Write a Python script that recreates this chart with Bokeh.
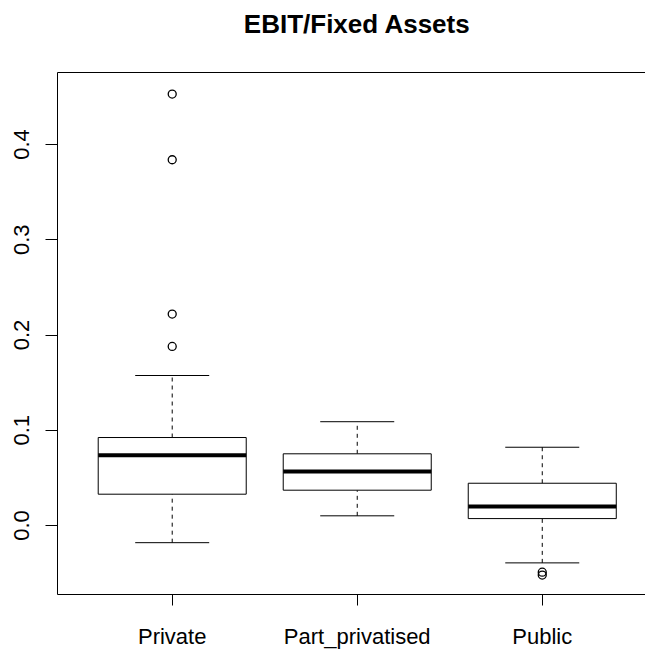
from bokeh.plotting import figure
from bokeh.models import Range1d, FixedTicker, LinearAxis, PrintfTickFormatter, Label
from bokeh.embed import file_html
from bokeh.resources import INLINE

# Summary statistics for each ownership group
categories = ["Private", "Part_privatised", "Public"]
positions = [1, 2, 3]
lower_whisker = [-0.018, 0.0102, -0.0392]
q1 = [0.0329, 0.0371, 0.0073]
median = [0.0738, 0.0567, 0.0199]
q3 = [0.0924, 0.0753, 0.0444]
upper_whisker = [0.1575, 0.109, 0.0822]

# Points beyond the whiskers
outlier_x = [1, 1, 1, 1, 3, 3]
outlier_y = [0.453, 0.384, 0.222, 0.188, -0.049, -0.052]

y_ticks = [0.0, 0.1, 0.2, 0.3, 0.4]

FONT = "Liberation Sans"
BOX_HALF = 0.4
CAP_HALF = 0.2

p = figure(width=645, height=653,
           x_range=Range1d(0.38, 3.558), y_range=Range1d(-0.0724, 0.4756),
           output_backend="svg", toolbar_location=None,
           x_axis_location=None, y_axis_location=None,
           min_border_left=57, min_border_right=0,
           min_border_top=72, min_border_bottom=59)
p.outline_line_color = None
p.grid.visible = False
p.background_fill_color = "white"
p.border_fill_color = "white"
p.title.text = ""

# Axes: left and bottom carry ticks, the top one just closes the box
yaxis = LinearAxis(ticker=FixedTicker(ticks=y_ticks),
                   formatter=PrintfTickFormatter(format="%.1f"))
yaxis.major_label_orientation = "vertical"
yaxis.major_tick_out = 12
yaxis.major_tick_in = 0
yaxis.minor_tick_line_color = None
yaxis.major_label_standoff = 16
yaxis.major_label_text_font = FONT
yaxis.major_label_text_font_size = "22px"
yaxis.major_label_text_color = "black"
yaxis.axis_line_color = "black"
yaxis.major_tick_line_color = "black"
p.add_layout(yaxis, "left")

xaxis = LinearAxis(ticker=FixedTicker(ticks=positions),
                   major_label_overrides={pos: name for pos, name in zip(positions, categories)})
xaxis.major_tick_out = 11
xaxis.major_tick_in = 0
xaxis.minor_tick_line_color = None
xaxis.major_label_standoff = 18
xaxis.major_label_text_font = FONT
xaxis.major_label_text_font_size = "22px"
xaxis.major_label_text_color = "black"
xaxis.axis_line_color = "black"
xaxis.major_tick_line_color = "black"
p.add_layout(xaxis, "below")

top_axis = LinearAxis(ticker=FixedTicker(ticks=[]))
top_axis.major_label_text_font_size = "0px"
top_axis.major_tick_line_color = None
top_axis.minor_tick_line_color = None
top_axis.axis_line_color = "black"
p.add_layout(top_axis, "above")

# Title, centred over the full x extent (0.38 .. 3.62) and placed above the box
title = Label(x=2.0, y=0.527, text="EBIT/Fixed Assets",
              text_align="center", text_baseline="alphabetic",
              text_font=FONT, text_font_size="26px", text_font_style="bold",
              text_color="black")
p.add_layout(title, "above")

# Whiskers (dashed) and caps
p.segment(x0=positions, y0=q3, x1=positions, y1=upper_whisker,
          line_color="black", line_width=1, line_dash="4 4")
p.segment(x0=positions, y0=lower_whisker, x1=positions, y1=q1,
          line_color="black", line_width=1, line_dash="4 4")
p.segment(x0=[x - CAP_HALF for x in positions], y0=upper_whisker,
          x1=[x + CAP_HALF for x in positions], y1=upper_whisker,
          line_color="black", line_width=1)
p.segment(x0=[x - CAP_HALF for x in positions], y0=lower_whisker,
          x1=[x + CAP_HALF for x in positions], y1=lower_whisker,
          line_color="black", line_width=1)

# Boxes and medians
p.quad(left=[x - BOX_HALF for x in positions], right=[x + BOX_HALF for x in positions],
       bottom=q1, top=q3, fill_color="white", line_color="black", line_width=1)
p.segment(x0=[x - BOX_HALF for x in positions], y0=median,
          x1=[x + BOX_HALF for x in positions], y1=median,
          line_color="black", line_width=4)

# Outliers
p.scatter(x=outlier_x, y=outlier_y, marker="circle", size=8,
          fill_color=None, line_color="black", line_width=1.3)

open("out.html", "w").write(file_html(p, INLINE))
